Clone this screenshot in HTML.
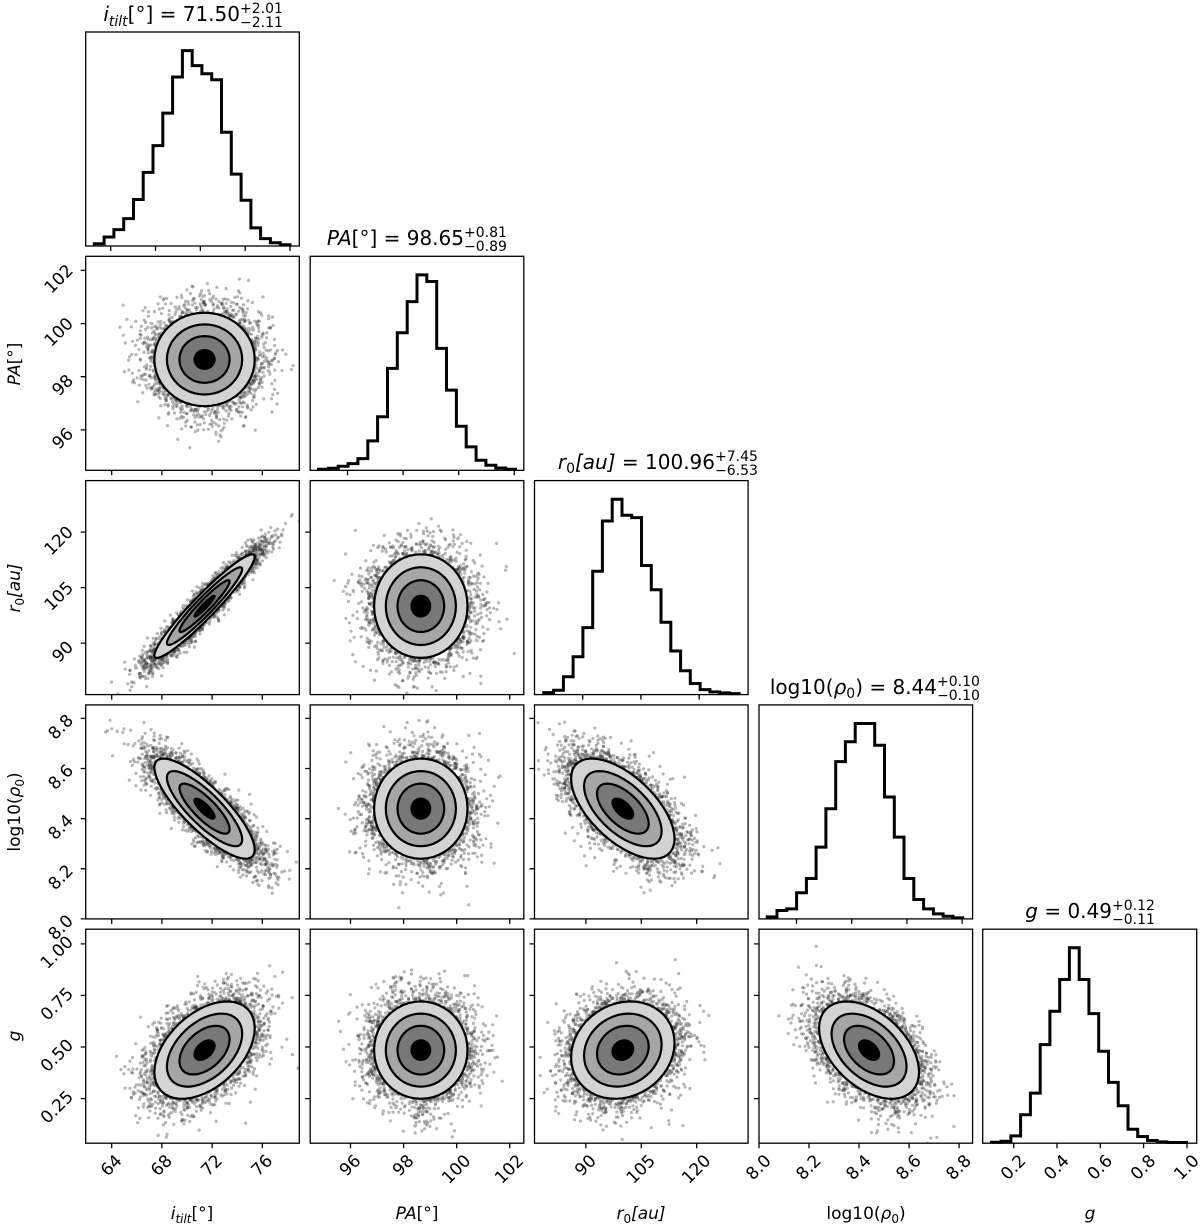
<!DOCTYPE html>
<html><head><meta charset="utf-8"><title>Corner plot</title>
<style>
html,body{margin:0;padding:0;background:#fff;}
svg{display:block;font-family:"DejaVu Sans","Liberation Sans",sans-serif;}
</style></head>
<body>
<svg id="chart" width="1200" height="1227" viewBox="0 0 1200 1227" xmlns="http://www.w3.org/2000/svg">
<rect x="0" y="0" width="1200" height="1227" fill="#fff"/>
<g id="scatter-layer"></g>
<g id="contour-layer"></g>
<g id="hist-layer"></g>
<g id="frame-layer"></g>
<g id="label-layer"></g>

<g font-size="20" fill="#000">
  <text x="240" y="21" text-anchor="end"><tspan font-style="italic">i</tspan><tspan font-style="italic" font-size="14" dy="5">tilt</tspan><tspan dy="-5">[°] = 71.50</tspan></text>
  <text font-size="14"><tspan x="240" y="13">+2.01</tspan><tspan x="240" y="27">−2.11</tspan></text>

  <text x="464" y="245" text-anchor="end"><tspan font-style="italic">PA</tspan>[°] = 98.65</text>
  <text font-size="14"><tspan x="464" y="237">+0.81</tspan><tspan x="464" y="251">−0.89</tspan></text>

  <text x="715" y="469" text-anchor="end"><tspan font-style="italic">r</tspan><tspan font-size="14" dy="4">0</tspan><tspan dy="-4" font-style="italic">[au]</tspan> = 100.96</text>
  <text font-size="14"><tspan x="715" y="461">+7.45</tspan><tspan x="715" y="475">−6.53</tspan></text>

  <text x="937" y="694" text-anchor="end">log10(<tspan font-style="italic">ρ</tspan><tspan font-size="14" dy="4">0</tspan><tspan dy="-4">) = 8.44</tspan></text>
  <text font-size="14"><tspan x="937" y="686">+0.10</tspan><tspan x="937" y="700">−0.10</tspan></text>

  <text x="1112" y="918" text-anchor="end"><tspan font-style="italic">g</tspan> = 0.49</text>
  <text font-size="14"><tspan x="1112" y="910">+0.12</tspan><tspan x="1112" y="924">−0.11</tspan></text>
</g>

<g font-size="17" text-anchor="middle">
  <text x="192" y="1219"><tspan font-style="italic">i</tspan><tspan font-style="italic" font-size="12" dy="4">tilt</tspan><tspan dy="-4">[°]</tspan></text>
  <text x="417" y="1219"><tspan font-style="italic">PA</tspan>[°]</text>
  <text x="641" y="1219"><tspan font-style="italic">r</tspan><tspan font-size="12" dy="4">0</tspan><tspan dy="-4" font-style="italic">[au]</tspan></text>
  <text x="866" y="1219">log10(<tspan font-style="italic">ρ</tspan><tspan font-size="12" dy="4">0</tspan><tspan dy="-4">)</tspan></text>
  <text x="1090" y="1219" font-style="italic">g</text>
</g>
<g font-size="17" text-anchor="middle">
  <text transform="translate(20,364) rotate(-90)"><tspan font-style="italic">PA</tspan>[°]</text>
  <text transform="translate(20,588) rotate(-90)"><tspan font-style="italic">r</tspan><tspan font-size="12" dy="4">0</tspan><tspan dy="-4" font-style="italic">[au]</tspan></text>
  <text transform="translate(20,812) rotate(-90)">log10(<tspan font-style="italic">ρ</tspan><tspan font-size="12" dy="4">0</tspan><tspan dy="-4">)</tspan></text>
  <text transform="translate(20,1036) rotate(-90)" font-style="italic">g</text>
</g>
</svg>

<script>
// ---------- data ----------
const paramNames = ["itilt", "pa", "r0", "logrho", "g"];
const paramMeans = [71.4, 98.65, 100.0, 8.44, 0.485];
const paramSds = [2.0, 0.88, 7.0, 0.10, 0.118];
// 2D axis ranges (shared per column / row)
const axisMin = [61.93, 94.48, 76.1, 8.0, 0.034];
const axisMax = [78.95, 102.53, 133.9, 8.854, 1.071];
const xTicks0 = [64, 68, 72, 76];
const xTicks1 = [96, 98, 100, 102];
const xTicks2 = [90, 105, 120];
const xTicks3 = [8.0, 8.2, 8.4, 8.6, 8.8];
const yTicksG = [0.25, 0.50, 0.75, 1.00];
const tickLabels0 = ["64", "68", "72", "76"];
const tickLabels1 = ["96", "98", "100", "102"];
const tickLabels2 = ["90", "105", "120"];
const tickLabels3 = ["8.0", "8.2", "8.4", "8.6", "8.8"];
const tickLabelsG = ["0.25", "0.50", "0.75", "1.00"];
// pair correlations [col, row, rho]
const pairCols = [0, 0, 0, 0, 1, 1, 1, 2, 2, 3];
const pairRows = [1, 2, 3, 4, 2, 3, 4, 3, 4, 4];
const pairRho = [0.0, 0.95, -0.82, 0.45, 0.0, 0.0, 0.0, -0.6, 0.15, -0.45];
const contourSigmas = [2.0, 1.5, 1.0, 0.4];
// histograms (diagonal)
const histCounts0 = [7, 27, 49, 82, 139, 220, 300, 397, 505, 584, 539, 515, 497, 340, 215, 137, 54, 22, 10, 4];
const histCounts1 = [3, 6, 12, 20, 35, 88, 160, 305, 412, 505, 585, 565, 365, 240, 132, 70, 30, 15, 7, 3];
const histCounts2 = [6, 13, 53, 113, 200, 368, 518, 583, 535, 528, 385, 313, 216, 130, 71, 33, 15, 8, 5, 3];
const histCounts3 = [6, 25, 30, 78, 121, 215, 330, 471, 530, 585, 585, 520, 365, 245, 121, 58, 30, 15, 8, 3];
const histCounts4 = [3, 6, 22, 85, 150, 295, 395, 490, 585, 490, 388, 275, 182, 112, 42, 20, 8, 4, 2, 2];
const histLo = [62.54, 94.96, 80.0, 8.094, 0.097];
const histHi = [80.0, 102.04, 130.3, 8.802, 0.998];
const histMin = [61.77, 94.66, 77.6, 8.064, 0.057];
const histMax = [80.83, 102.34, 132.6, 8.838, 1.045];
const histTicks0 = [64, 68, 72, 76, 80];
const histTicks1 = [96, 98, 100, 102];
const histTicks2 = [90, 105, 120];
const histTicks3 = [8.2, 8.4, 8.6, 8.8];
const histTicks4 = [0.2, 0.4, 0.6, 0.8, 1.0];
const histTickLabels4 = ["0.2", "0.4", "0.6", "0.8", "1.0"];

// ---------- layout ----------
const NS = "http://www.w3.org/2000/svg";
const colLeft = [85.7, 310.2, 534.5, 759.0, 982.7];
const colW = [213.6, 213.6, 213.6, 213.6, 214.0];
const rowTop = [32, 256.3, 480.6, 704.9, 929.2];
const rowH = 214;
const xTicksAll = [xTicks0, xTicks1, xTicks2, xTicks3];
const xLabelsAll = [tickLabels0, tickLabels1, tickLabels2, tickLabels3];
const yTicksAll = [null, xTicks1, xTicks2, xTicks3, yTicksG];
const yLabelsAll = [null, tickLabels1, tickLabels2, tickLabels3, tickLabelsG];
const histCountsAll = [histCounts0, histCounts1, histCounts2, histCounts3, histCounts4];
const histTicksAll = [histTicks0, histTicks1, histTicks2, histTicks3, histTicks4];

function xScale(c, v) { return colLeft[c] + (v - axisMin[c]) / (axisMax[c] - axisMin[c]) * colW[c]; }
function yScale(r, v) { return rowTop[r] + rowH - (v - axisMin[r]) / (axisMax[r] - axisMin[r]) * rowH; }
function hxScale(k, v) { return colLeft[k] + (v - histMin[k]) / (histMax[k] - histMin[k]) * colW[k]; }

function mk(tag, attrs, parent) {
  const e = document.createElementNS(NS, tag);
  for (const k in attrs) e.setAttribute(k, attrs[k]);
  parent.appendChild(e);
  return e;
}
const scatterL = document.getElementById("scatter-layer");
const contourL = document.getElementById("contour-layer");
const histL = document.getElementById("hist-layer");
const frameL = document.getElementById("frame-layer");
const labelL = document.getElementById("label-layer");

// deterministic PRNG for scatter texture
let seed = 12345;
function rand() { seed |= 0; seed = seed + 0x6D2B79F5 | 0; let t = Math.imul(seed ^ seed >>> 15, 1 | seed); t = t + Math.imul(t ^ t >>> 7, 61 | t) ^ t; return ((t ^ t >>> 14) >>> 0) / 4294967296; }
function gauss() { let u = rand() || 1e-9, v = rand(); return Math.sqrt(-2 * Math.log(u)) * Math.cos(2 * Math.PI * v); }

// ---------- 2D panels ----------
const fills = ["#d3d3d3", "#a6a6a6", "#787878", "#000000"];
const NG = 5;
for (let p = 0; p < pairCols.length; p++) {
  const c = pairCols[p], r = pairRows[p], rho = pairRho[p];
  const mx = paramMeans[c], sx = paramSds[c], my = paramMeans[r], sy = paramSds[r];
  const q = Math.sqrt(1 - rho * rho);
  const cl = mk("clipPath", { id: "clip" + p }, scatterL);
  mk("rect", { x: colLeft[c], y: rowTop[r], width: colW[c], height: rowH }, cl);
  const g = mk("g", { "clip-path": "url(#clip" + p + ")" }, scatterL);
  
  
  const ds = [];
  for (let k = 0; k < NG; k++) ds.push("");
  for (let i = 0; i < 6000; i++) {
    const a = gauss(), b = gauss();
    const rr = Math.sqrt(a * a + b * b);
    if (rr < 1.95) continue;
    const vx = mx + sx * a, vy = my + sy * (rho * a + q * b);
    const X = xScale(c, vx), Y = yScale(r, vy);
    const k = i % NG;
    ds[k] += "M" + (X - 1.6).toFixed(1) + " " + Y.toFixed(1) + "a1.6 1.6 0 1 0 3.2 0a1.6 1.6 0 1 0 -3.2 0";
  }
  for (let k = 0; k < NG; k++) mk("path", { d: ds[k], fill: "#1a1a1a", "fill-opacity": 0.32 }, g);
  // contours
  const cg = mk("g", {}, contourL);
  
  
  contourSigmas.forEach((s, li) => {
    let pts = [];
    for (let t = 0; t < 48; t++) {
      const th = t / 48 * 2 * Math.PI;
      const vx = mx + s * sx * Math.cos(th);
      const vy = my + s * sy * (rho * Math.cos(th) + q * Math.sin(th));
      pts.push(xScale(c, vx).toFixed(1) + "," + yScale(r, vy).toFixed(1));
    }
    const poly = mk("polygon", { points: pts.join(" "), fill: fills[li], stroke: "#000", "stroke-width": 2.2, "stroke-linejoin": "round" }, cg);
    
    
  });
}

// ---------- histograms ----------
for (let k = 0; k < 5; k++) {
  const counts = histCountsAll[k];
  const mxc = Math.max(...counts) * 1.095;
  const n = counts.length, w = (histHi[k] - histLo[k]) / n;
  const base = rowTop[k] + rowH;
  const yv = v => base - v / mxc * rowH;
  let d = "M" + hxScale(k, histLo[k]).toFixed(1) + " " + base;
  for (let i = 0; i < n; i++) {
    const x0 = hxScale(k, histLo[k] + i * w), x1 = hxScale(k, histLo[k] + (i + 1) * w);
    d += "L" + x0.toFixed(1) + " " + yv(counts[i]).toFixed(1) + "L" + x1.toFixed(1) + " " + yv(counts[i]).toFixed(1);
  }
  d += "L" + hxScale(k, histHi[k]).toFixed(1) + " " + base;
  const h = mk("path", { d: d, fill: "none", stroke: "#000", "stroke-width": 3, "stroke-linejoin": "miter" }, histL);
  
  
}

// ---------- frames, ticks, labels ----------
const FS = 17;
function rotLabel(cx, cy, txt, name) {
  const t = mk("text", { x: cx, y: cy, "text-anchor": "middle", "dominant-baseline": "central", "font-size": FS, transform: "rotate(-45 " + cx.toFixed(1) + " " + cy.toFixed(1) + ")" }, labelL);
  t.textContent = txt;
  
  
}
function txtLen(s) { let L = 0; for (const ch of s) L += (ch === "." ? 5.4 : 10.8); return L; }

for (let r = 0; r < 5; r++) {
  for (let c = 0; c <= r; c++) {
    const fr = mk("rect", { x: colLeft[c], y: rowTop[r], width: colW[c], height: rowH, fill: "none", stroke: "#000", "stroke-width": 1.3 }, frameL);
    
    
    const bottom = rowTop[r] + rowH;
    let td = "";
    if (c === r) {
      histTicksAll[c].forEach((v, i) => {
        const X = hxScale(c, v);
        td += "M" + X.toFixed(1) + " " + bottom + "v5";
        if (r === 4) {
          const s = histTickLabels4[i], L = txtLen(s), hh = (L * 0.707 + FS * 0.707) / 2;
          rotLabel(X, bottom + 9 + hh, s, 'x-tick-label-g-' + s);
        }
      });
    } else {
      xTicksAll[c].forEach((v, i) => {
        const X = xScale(c, v);
        td += "M" + X.toFixed(1) + " " + bottom + "v5";
        if (r === 4) {
          const s = xLabelsAll[c][i], L = txtLen(s), hh = (L * 0.707 + FS * 0.707) / 2;
          rotLabel(X, bottom + 9 + hh, s, 'x-tick-label-' + paramNames[c] + '-' + s);
        }
      });
      yTicksAll[r].forEach((v, i) => {
        const Y = yScale(r, v);
        td += "M" + colLeft[c] + " " + Y.toFixed(1) + "h-5";
        if (c === 0) {
          const s = yLabelsAll[r][i], L = txtLen(s), hw = (L * 0.707 + FS * 0.707) / 2;
          rotLabel(colLeft[0] - 9 - hw, Y + 9, s, 'y-tick-label-' + paramNames[r] + '-' + s);
        }
      });
    }
    const tk = mk("path", { d: td, stroke: "#000", "stroke-width": 1.3, fill: "none" }, frameL);
    
    
  }
}
</script>
</body></html>
